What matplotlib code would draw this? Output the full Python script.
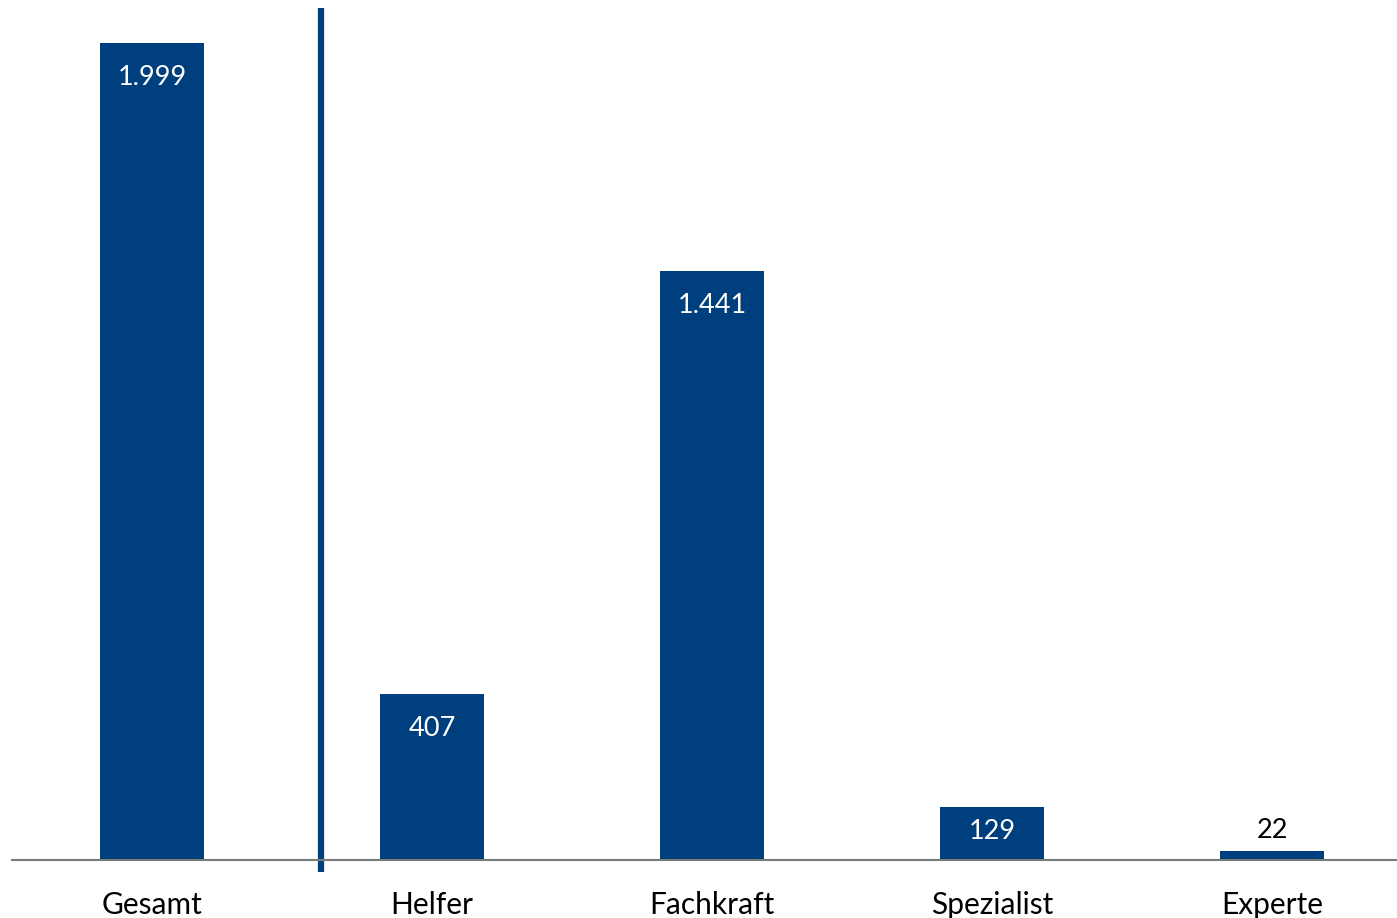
import matplotlib
matplotlib.use("Agg")
import matplotlib.pyplot as plt

categories = ["Gesamt", "Helfer", "Fachkraft", "Spezialist", "Experte"]
values = [1999, 407, 1441, 129, 22]
value_labels = ["1.999", "407", "1.441", "129", "22"]

navy = "#003f7d"
plt.rcParams["font.family"] = ["Lato", "DejaVu Sans"]

fig = plt.figure(figsize=(13.97, 9.18), dpi=100)
ax = fig.add_axes([12 / 1397, 1 - 860 / 918, 1 - 12 / 1397, 860 / 918])

x = list(range(len(categories)))
ax.bar(x, values, width=0.37, color=navy, zorder=2)

ax.set_xlim(-0.5, 4.446)
ax.set_ylim(0, 2104)

for xi, v, lab in zip(x, values, value_labels):
    if v > 300:
        ax.annotate(lab, (xi, v), xytext=(0, -25), textcoords="offset points",
                    ha="center", va="center", color="white", fontsize=19.5)
    elif v > 100:
        ax.annotate(lab, (xi, v / 2), xytext=(0, 1.5), textcoords="offset points",
                    ha="center", va="center", color="white", fontsize=19.5)
    else:
        ax.annotate(lab, (xi, v), xytext=(0, 15), textcoords="offset points",
                    ha="center", va="center", color="black", fontsize=19.5)

# separator between total and breakdown
ax.plot([0.604, 0.604], [1 - 8 / 860, -12 / 860], color=navy, lw=4.5,
        transform=ax.get_xaxis_transform(), clip_on=False, zorder=3,
        solid_capstyle="butt")

for s in ["top", "right", "left"]:
    ax.spines[s].set_visible(False)
ax.spines["bottom"].set_color("#7a7a7a")
ax.spines["bottom"].set_linewidth(1.5)
ax.spines["bottom"].set_zorder(4)

ax.set_yticks([])
ax.set_xticks(x)
ax.set_xticklabels(categories, fontsize=21.5)
ax.tick_params(axis="x", length=0, pad=22)

fig.savefig("out.png", dpi=100)
